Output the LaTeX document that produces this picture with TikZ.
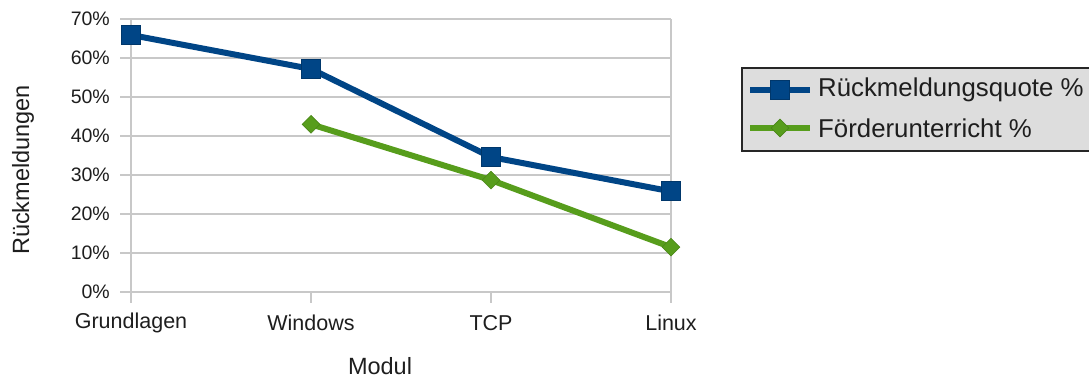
\documentclass[tikz,border=0pt]{standalone}
\usepackage{fontspec}
\setmainfont{Liberation Sans}
\usetikzlibrary{shapes.geometric}
\definecolor{seriesblue}{HTML}{004586}
\definecolor{seriesgreen}{HTML}{579D1C}
\definecolor{gridgray}{HTML}{C8C8C8}
\definecolor{legendfill}{HTML}{DDDDDD}
\definecolor{labelgray}{HTML}{1E1E1E}
\tikzset{
  gridline/.style={draw=gridgray, line width=1.3pt},
  bluepath/.style={draw=seriesblue, line width=6pt, line join=round},
  greenpath/.style={draw=seriesgreen, line width=6pt, line join=round},
  sqmark/.style={rectangle, fill=seriesblue, draw=seriesblue!80!black, line width=0.8pt,
    minimum size=19pt, inner sep=0pt},
  dimark/.style={diamond, fill=seriesgreen, draw=seriesgreen!85!black, line width=0.6pt,
    minimum width=18pt, minimum height=18pt, inner sep=0pt, aspect=1},
  ylab/.style={anchor=east, font=\fontsize{19.5}{22}\selectfont, text=labelgray, inner sep=0pt},
  xlab/.style={anchor=center, font=\fontsize{21.5}{24}\selectfont, text=labelgray, inner sep=0pt},
  axtitle/.style={font=\fontsize{23.5}{26}\selectfont, text=labelgray, inner sep=0pt},
  legtext/.style={anchor=west, font=\fontsize{25.8}{30}\selectfont, text=labelgray, inner sep=0pt},
}
\begin{document}
\begin{tikzpicture}[x=1pt,y=1pt]
  \useasboundingbox (0,0) rectangle (1089,378);
  \fill[white] (0,0) rectangle (1089,378);

  % horizontal grid lines, y tick marks and y labels (value v at 86 + 3.9 v)
  \foreach \v in {0,10,...,70} {
    \draw[gridline] (120,{86+3.9*\v}) -- (671,{86+3.9*\v});
    \node[ylab] (y\v) at (110,{86+3.9*\v}) {\v\%};
  }
  % left and right frame lines
  \draw[gridline] (131,86) -- (131,359);
  \draw[gridline] (671,86) -- (671,359);
  % category tick marks
  \foreach \i in {0,1,2,3} {
    \draw[gridline] ({131+180*\i},86) -- ({131+180*\i},75);
  }
  % category labels
  \node[xlab] (cG) at (131,55) {Grundlagen};
  \node[xlab] (cW) at (311,55) {Windows};
  \node[xlab] (cT) at (491,55) {TCP};
  \node[xlab] (cL) at (671,55) {Linux};

  % axis titles
  \node[axtitle] (xt) at (380,12) {Modul};
  \node[axtitle, rotate=90] (yt) at (23,208) {Rückmeldungen};

  % data points
  \coordinate (b1) at (131,{86+3.9*65.9});
  \coordinate (b2) at (311,{86+3.9*57.2});
  \coordinate (b3) at (491,{86+3.9*34.6});
  \coordinate (b4) at (671,{86+3.9*25.8});
  \coordinate (g2) at (311,{86+3.9*43.0});
  \coordinate (g3) at (491,{86+3.9*28.7});
  \coordinate (g4) at (671,{86+3.9*11.5});

  % series lines
  \draw[greenpath] (g2) -- (g3) -- (g4);
  \draw[bluepath] (b1) -- (b2) -- (b3) -- (b4);

  % markers
  \foreach \p in {b1,b2,b3,b4} \node[sqmark] (m\p) at (\p) {};
  \foreach \p in {g2,g3,g4} \node[dimark] (m\p) at (\p) {};

  % legend
  \draw[draw=black!85, line width=1.3pt, fill=legendfill] (742,227) rectangle (1095,310);
  \coordinate (l1a) at (750,288);
  \coordinate (l1b) at (810,288);
  \coordinate (l2a) at (750,250);
  \coordinate (l2b) at (810,250);
  \draw[bluepath] (l1a) -- (l1b);
  \node[sqmark] (lm1) at (780,288) {};
  \draw[greenpath] (l2a) -- (l2b);
  \node[dimark] (lm2) at (780,250) {};
  \node[legtext] (lt1) at (818,288) {Rückmeldungsquote \%};
  \node[legtext] (lt2) at (818,250) {Förderunterricht \%};
\end{tikzpicture}
\end{document}
